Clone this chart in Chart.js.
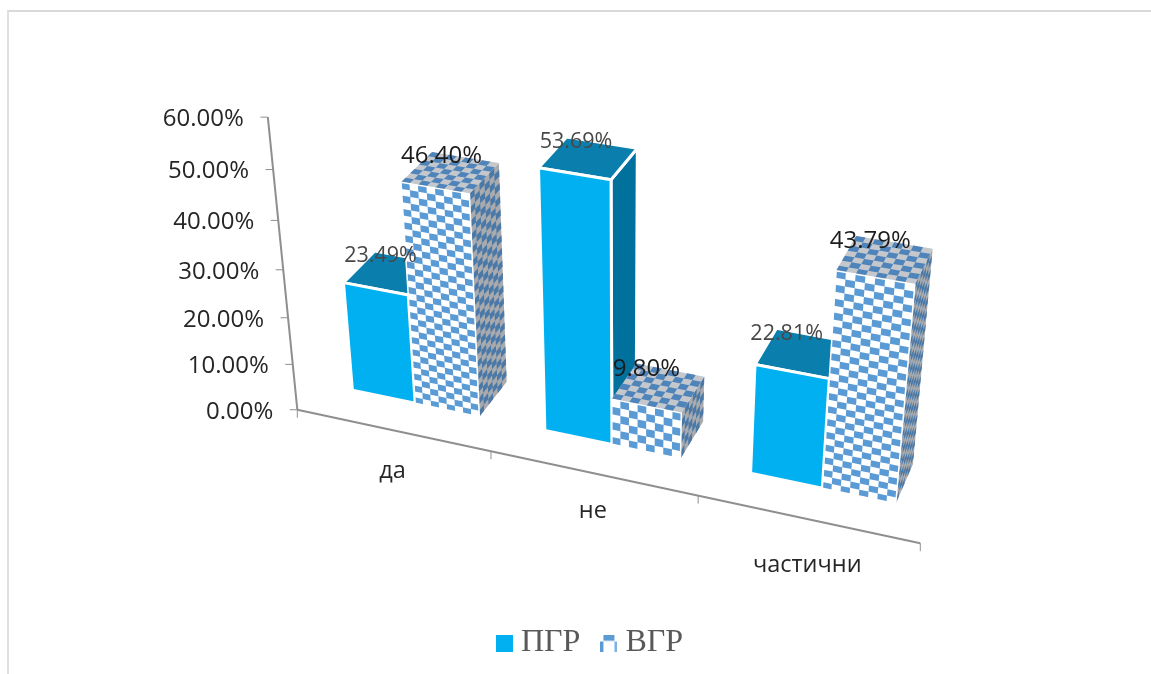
<!DOCTYPE html>
<html lang="bg">
<head>
<meta charset="utf-8">
<title>ПГР и ВГР</title>
<script src="https://cdn.jsdelivr.net/npm/chart.js@4"></script>
<style>
html,body{margin:0;padding:0;background:#fff;overflow:hidden}
canvas{display:block}
</style>
</head>
<body>
<canvas id="chart" width="1151" height="674"></canvas>
<script>
// Chart values
const categories = ['да', 'не', 'частични'];
const seriesNames = ['ПГР', 'ВГР'];
const pgrValues = [23.49, 53.69, 22.81];
const vgrValues = [46.40, 9.80, 43.79];

// Camera for the 3D view: (category, value, depth) -> canvas position
const CAMERA = [
  174.064, -0.845121, 40.2614, 321.517,
  26.2363, -4.93679, -23.6454, 383.709,
  -0.0319366, -0.00135726, 0.0269446
];
const AXIS_DEPTH = -0.75;
const CATEGORY_LABEL_DROP = [41, 38, 46];

const TEXT_FONT = '"Open Sans", sans-serif';
const AXIS_COLOR = '#8f8f8f';
const SOLID = { front: '#00b0f0', top: '#0a7fae', side: '#00709c' };
const CHECK = {
  front: { ink: '#5b9bd5', base: '#ffffff' },
  top: { ink: '#4f84ba', base: '#c4c8cc' },
  side: { ink: '#4a79a8', base: '#a8aaad' }
};
const CHECK_COLS = 8, CHECK_TOP_DEPTH = 7, CHECK_SIDE_DEPTH = 6;

function project(x, v, z) {
  const c = CAMERA, d = c[8] * x + c[9] * v + c[10] * z + 1;
  return [(c[0] * x + c[1] * v + c[2] * z + c[3]) / d,
          (c[4] * x + c[5] * v + c[6] * z + c[7]) / d];
}

function quad(ctx, a, b, c, d) {
  ctx.beginPath();
  ctx.moveTo(a[0], a[1]);
  ctx.lineTo(b[0], b[1]);
  ctx.lineTo(c[0], c[1]);
  ctx.lineTo(d[0], d[1]);
  ctx.closePath();
}

// One bar face given as a function of (u, w) in 0..1
function drawFace(ctx, at, fill, edge) {
  quad(ctx, at(0, 0), at(1, 0), at(1, 1), at(0, 1));
  ctx.fillStyle = fill;
  ctx.fill();
  if (edge) {
    ctx.strokeStyle = '#ffffff';
    ctx.lineWidth = edge;
    ctx.lineJoin = 'round';
    ctx.stroke();
  }
}

function drawCheckedFace(ctx, at, nu, nw, colors, edge) {
  drawFace(ctx, at, colors.base, 0);
  ctx.fillStyle = colors.ink;
  for (let i = 0; i < nu; i++) {
    for (let j = 0; j < nw; j++) {
      if ((i + j) % 2) continue;
      quad(ctx, at(i / nu, j / nw), at((i + 1) / nu, j / nw),
           at((i + 1) / nu, (j + 1) / nw), at(i / nu, (j + 1) / nw));
      ctx.fill();
    }
  }
  if (edge) {
    quad(ctx, at(0, 0), at(1, 0), at(1, 1), at(0, 1));
    ctx.strokeStyle = '#ffffff';
    ctx.lineWidth = edge;
    ctx.stroke();
  }
}

function drawBar(ctx, x0, x1, value, checked) {
  const front = (u, w) => project(x0 + (x1 - x0) * u, value * w, 0);
  const top = (u, w) => project(x0 + (x1 - x0) * u, value, w);
  const side = (u, w) => project(x1, value * w, u);
  if (checked) {
    const rows = Math.max(2, Math.round(value * 0.8 - 2));
    drawCheckedFace(ctx, side, CHECK_SIDE_DEPTH, rows, CHECK.side, 0);
    drawCheckedFace(ctx, top, CHECK_COLS, CHECK_TOP_DEPTH, CHECK.top, 0);
    drawCheckedFace(ctx, front, CHECK_COLS, rows, CHECK.front, 1.5);
  } else {
    drawFace(ctx, side, SOLID.side, 3);
    drawFace(ctx, top, SOLID.top, 3);
    drawFace(ctx, front, SOLID.front, 3);
  }
}

function swatch(paint) {
  const c = document.createElement('canvas');
  c.width = 17;
  c.height = 17;
  paint(c.getContext('2d'));
  return c;
}
const solidSwatch = swatch(g => {
  g.fillStyle = SOLID.front;
  g.fillRect(0, 0, 17, 17);
});
const checkSwatch = swatch(g => {
  g.fillStyle = CHECK.front.ink;
  g.fillRect(3, 0, 11, 6);
  g.fillRect(0, 7, 3, 10);
  g.fillStyle = '#7fb2e0';
  g.fillRect(14, 7, 3, 10);
  g.fillStyle = '#cfe1f3';
  g.fillRect(3, 6, 11, 1);
});

// Draws the bars and both axes in perspective from the laid-out scales and elements
const perspectivePlugin = {
  id: 'perspective',
  beforeDraw(chart) {
    const ctx = chart.ctx;
    ctx.save();
    ctx.fillStyle = '#ffffff';
    ctx.fillRect(0, 0, chart.width, chart.height);
    ctx.fillStyle = '#d9d9d9';
    ctx.fillRect(8, 10, chart.width - 8, 2);
    ctx.fillStyle = '#e0e0e0';
    ctx.fillRect(7, 10, 2, chart.height - 10);
    ctx.restore();
  },
  beforeDatasetsDraw(chart) {
    const ctx = chart.ctx;
    const xs = chart.scales.x, ys = chart.scales.y;
    const catWidth = (xs.right - xs.left) / xs.ticks.length;
    const toCat = px => (px - xs.left) / catWidth;
    const toValue = px => ys.getValueForPixel(px);
    ctx.save();

    // Axis lines and tick marks
    ctx.strokeStyle = AXIS_COLOR;
    ctx.lineCap = 'butt';
    const line = (a, b, w) => {
      ctx.lineWidth = w;
      ctx.beginPath();
      ctx.moveTo(a[0], a[1]);
      ctx.lineTo(b[0], b[1]);
      ctx.stroke();
    };
    const valueTop = project(0, ys.max, AXIS_DEPTH), origin = project(0, ys.min, AXIS_DEPTH);
    line(origin, valueTop, 2);
    line(origin, project(xs.ticks.length, ys.min, AXIS_DEPTH), 2);

    ctx.font = '24px ' + TEXT_FONT;
    ctx.fillStyle = '#262626';
    ctx.textAlign = 'right';
    ctx.textBaseline = 'middle';
    ys.ticks.forEach(t => {
      const p = project(0, t.value, AXIS_DEPTH);
      line([p[0] - 7.5, p[1]], p, 1);
      ctx.fillText(t.label, p[0] - 24, p[1] + 2);
    });
    for (let i = 0; i <= xs.ticks.length; i++) {
      const p = project(i, ys.min, AXIS_DEPTH);
      line(p, [p[0], p[1] + 8], 1);
    }

    ctx.font = '23.5px ' + TEXT_FONT;
    ctx.textAlign = 'center';
    xs.ticks.forEach((t, i) => {
      const p = project(toCat(xs.getPixelForTick(i)), ys.min, AXIS_DEPTH);
      ctx.fillText(t.label, p[0], p[1] + CATEGORY_LABEL_DROP[i]);
    });

    // Bars, left to right so nearer side faces stay behind the next bar
    const metas = chart.data.datasets.map((_, i) => chart.getDatasetMeta(i));
    const labels = [];
    xs.ticks.forEach((_, c) => {
      metas.forEach((meta, s) => {
        const el = meta.data[c];
        const x0 = toCat(el.x - el.width / 2), x1 = toCat(el.x + el.width / 2);
        const value = toValue(el.y);
        drawBar(ctx, x0, x1, value, s === 1);
        const a = project(x0, value, 1), b = project(x1, value, 1);
        labels.push({
          x: (a[0] + b[0]) / 2 - (s === 1 ? 24 : 26), y: (a[1] + b[1]) / 2 - 1,
          text: value.toFixed(2) + '%',
          color: s === 1 ? '#1c1c1c' : '#474747',
          size: s === 1 ? 24 : 21.5
        });
      });
    });

    // Value labels sit above every bar
    ctx.textAlign = 'center';
    ctx.textBaseline = 'middle';
    labels.forEach(l => {
      ctx.font = l.size + 'px ' + TEXT_FONT;
      ctx.fillStyle = l.color;
      ctx.fillText(l.text, l.x, l.y);
    });
    ctx.restore();
    return false;
  }
};

new Chart(document.getElementById('chart'), {
  type: 'bar',
  plugins: [perspectivePlugin],
  data: {
    labels: categories,
    datasets: [
      { label: seriesNames[0], data: pgrValues, backgroundColor: SOLID.front },
      { label: seriesNames[1], data: vgrValues, backgroundColor: CHECK.front.ink }
    ]
  },
  options: {
    responsive: false,
    animation: false,
    layout: { padding: { bottom: 5, left: 36 } },
    datasets: { bar: { categoryPercentage: 2 / 3, barPercentage: 1 } },
    scales: {
      x: { display: false },
      y: {
        display: false,
        min: 0,
        max: 60,
        ticks: { stepSize: 10, callback: v => v.toFixed(2) + '%' }
      }
    },
    plugins: {
      tooltip: { enabled: false },
      legend: {
        position: 'bottom',
        labels: {
          usePointStyle: true,
          boxWidth: 1,
          padding: 28,
          font: { family: '"Liberation Serif", serif', size: 32 },
          color: '#595959',
          generateLabels: () => seriesNames.map((name, i) => ({
            text: name,
            datasetIndex: i,
            hidden: false,
            fontColor: '#595959',
            fillStyle: 'transparent',
            strokeStyle: 'transparent',
            lineWidth: 0,
            pointStyle: i === 0 ? solidSwatch : checkSwatch
          }))
        }
      }
    }
  }
});
</script>
</body>
</html>
